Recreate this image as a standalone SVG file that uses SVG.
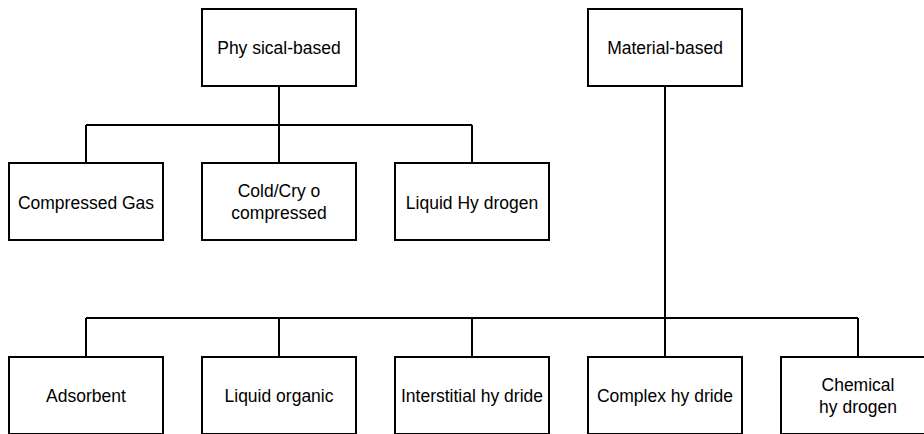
<svg xmlns="http://www.w3.org/2000/svg" width="924" height="434" viewBox="0 0 924 434">
<style>
.box{fill:#fff;stroke:#000;stroke-width:2}
.lbl{font-family:"Liberation Sans",Arial,sans-serif;font-size:17.5px;fill:#000;text-anchor:middle}
.conn{fill:none;stroke:#000;stroke-width:2}
</style>
<rect width="924" height="434" fill="#fff"/>
<g id="connectors" class="conn">
<path d="M279 86V163M86 125H472M86 125V163M472 125V163"/>
<path d="M665 86V357M86 318H858M86 318V357M279 318V357M472 318V357M858 318V357"/>
</g>
<g id="physical"><rect class="box" x="202" y="9" width="154" height="77"/><text class="lbl" x="279" y="54">Phy sical-based</text></g>
<g id="material"><rect class="box" x="588" y="9" width="154" height="77"/><text class="lbl" x="665" y="54">Material-based</text></g>
<g id="compressed-gas"><rect class="box" x="9" y="163" width="154" height="77"/><text class="lbl" x="86" y="209">Compressed Gas</text></g>
<g id="cold-cryo"><rect class="box" x="202" y="163" width="154" height="77"/><text class="lbl" x="279" y="197">Cold/Cry o</text><text class="lbl" x="279" y="219">compressed</text></g>
<g id="liquid-hydrogen"><rect class="box" x="395" y="163" width="154" height="77"/><text class="lbl" x="472" y="209">Liquid Hy drogen</text></g>
<g id="adsorbent"><rect class="box" x="9" y="357" width="154" height="77"/><text class="lbl" x="86" y="402">Adsorbent</text></g>
<g id="liquid-organic"><rect class="box" x="202" y="357" width="154" height="77"/><text class="lbl" x="279" y="402">Liquid organic</text></g>
<g id="interstitial"><rect class="box" x="395" y="357" width="154" height="77"/><text class="lbl" x="472" y="402">Interstitial hy dride</text></g>
<g id="complex"><rect class="box" x="588" y="357" width="154" height="77"/><text class="lbl" x="665" y="402">Complex  hy dride</text></g>
<g id="chemical"><rect class="box" x="781" y="357" width="154" height="77"/><text class="lbl" x="858" y="391">Chemical</text><text class="lbl" x="858" y="413">hy drogen</text></g>
</svg>
